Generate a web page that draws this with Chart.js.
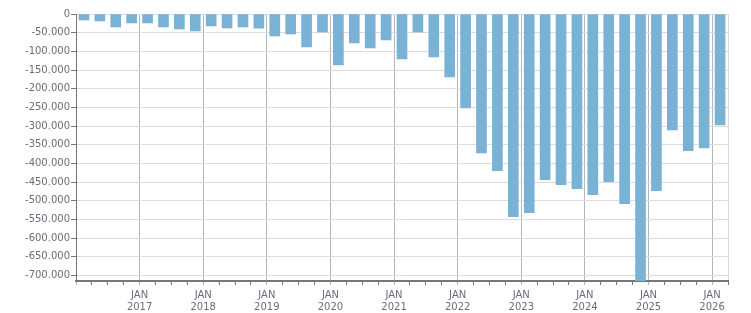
<!DOCTYPE html>
<html>
<head>
<meta charset="utf-8">
<script src="https://cdn.jsdelivr.net/npm/chart.js@4"></script>
<style>
  html, body { margin: 0; padding: 0; background: #fff; }
  #wrap { width: 751px; height: 313px; }
</style>
</head>
<body>
<div id="wrap"><canvas id="chartSaldo"></canvas></div>
<script>
// quarters from Q1 2016 to Q1 2026
const startYear = 2016;
const quarterValues = [
  -16000, -18700, -34800, -24000,
  -24000, -34800, -40100, -45500,
  -32000, -37400, -34800, -38000,
  -58800, -53500, -88200, -48100,
  -136400, -77500, -90900, -69500,
  -120300, -48100, -115000, -168500,
  -251400, -371700, -419800, -542800,
  -532100, -443900, -457300, -468000,
  -484000, -449200, -508100, -725000,
  -473300, -310200, -366300, -358300,
  -296800
];
const yMin = -715000;
const yStep = 50000;

const points = quarterValues.map((v, i) => ({ x: i + 0.5, y: v }));
const fmt = (n) => n.toLocaleString("de-DE");

document.addEventListener("DOMContentLoaded", () => {
  const ctx = document.getElementById("chartSaldo");
  new Chart(ctx, {
    type: "bar",
    data: {
      datasets: [
        {
          label: "Saldo",
          data: points,
          backgroundColor: "#79b2d4",
          barThickness: 10,
        },
      ],
    },
    options: {
      responsive: true,
      maintainAspectRatio: false,
      animation: false,
      layout: { padding: { top: 14, right: 23, left: 0, bottom: 0 } },
      plugins: { legend: { display: false }, tooltip: { enabled: false } },
      scales: {
        x: {
          type: "linear",
          offset: false,
          min: 0,
          max: quarterValues.length,
          afterFit: (s) => { s.height = 32; },
          border: { color: "#777", width: 2 },
          grid: {
            offset: false,
            color: (c) => {
              const v = c.tick ? c.tick.value : -1;
              if (v === quarterValues.length) return "#dcdcdc";
              return v > 0 && v % 4 === 0 ? "#b5b5b5" : "rgba(0,0,0,0)";
            },
            tickColor: (c) => (c.tick && c.tick.value % 4 === 0 ? "#b5b5b5" : "#777"),
            tickLength: 4,
            lineWidth: 1,
          },
          ticks: {
            stepSize: 1,
            autoSkip: false,
            maxRotation: 0,
            color: "#6b6b7b",
            font: { family: "DejaVu Sans", size: 10 },
            padding: 4,
            callback: (v) =>
              v > 0 && v % 4 === 0 && v < quarterValues.length ? ["JAN", String(startYear + v / 4)] : "",
          },
        },
        y: {
          min: yMin,
          max: 0,
          afterFit: (s) => { s.width = 76; },
          afterBuildTicks: (s) => {
            const t = [];
            for (let v = 0; v >= yMin; v -= yStep) t.push({ value: v });
            s.ticks = t;
          },
          border: { color: "#777", width: 1 },
          grid: { color: "#dcdcdc", tickColor: "#777", tickLength: 5 },
          ticks: {
            color: "#6b6b7b",
            font: { family: "DejaVu Sans", size: 10 },
            padding: 1,
            callback: (v) => fmt(v),
          },
        },
      },
    },
  });
});
</script>
</body>
</html>
